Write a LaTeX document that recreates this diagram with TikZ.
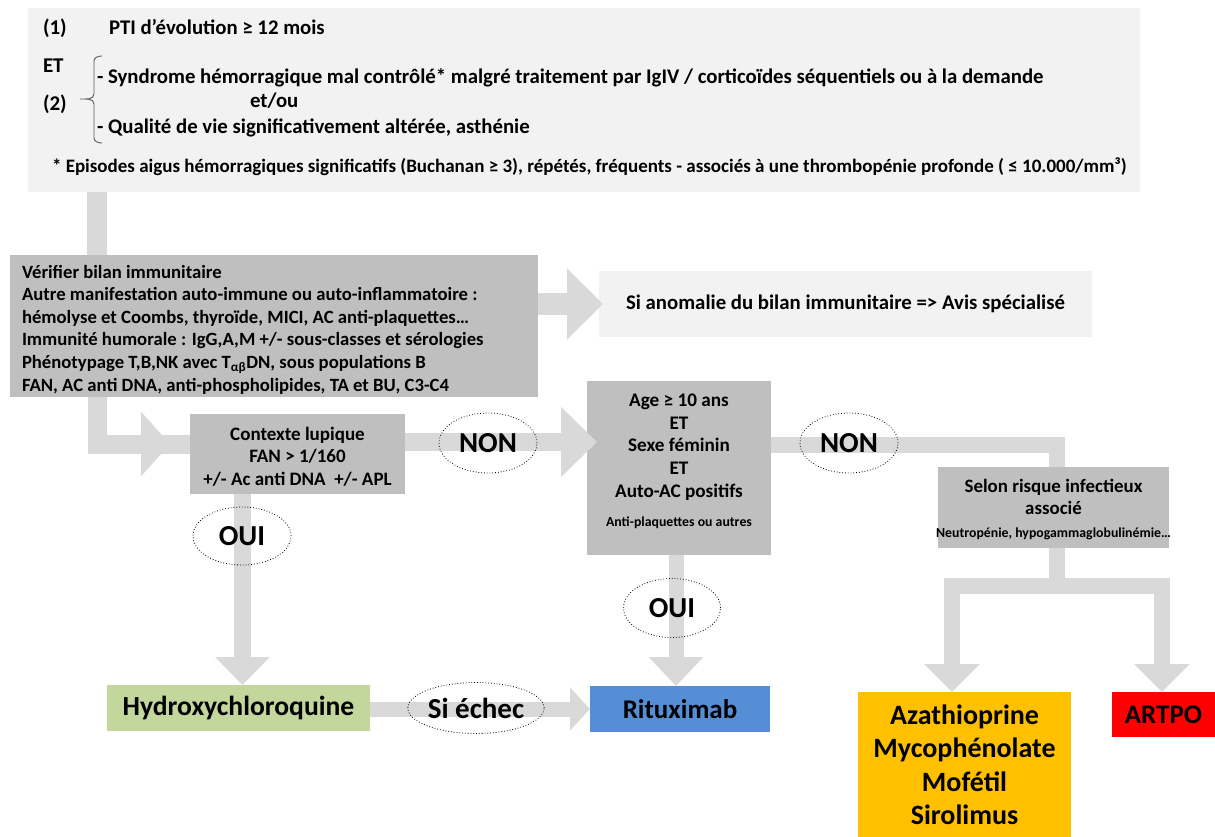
\documentclass[tikz,border=0pt]{standalone}
\usepackage{fontspec}
\setmainfont{Carlito}
\usetikzlibrary{arrows.meta,shapes.geometric,decorations.markings,calc}
\definecolor{lightbg}{HTML}{F2F2F2}
\definecolor{graybg}{HTML}{BFBFBF}
\definecolor{conncol}{HTML}{D9D9D9}
\definecolor{hcqgreen}{HTML}{C3D69B}
\definecolor{ritblue}{HTML}{558ED5}
\definecolor{azaorange}{HTML}{FFC000}
\definecolor{artpored}{HTML}{FF0000}
\definecolor{bracecol}{HTML}{595959}
\tikzset{
  boxbase/.style={inner sep=0pt, outer sep=0pt, anchor=north west, font=\bfseries, align=center},
  lightbox/.style={boxbase, fill=lightbg},
  graybox/.style={boxbase, fill=graybg},
  plaintxt/.style={inner sep=0pt, outer sep=0pt},
  toptxt/.style={plaintxt, anchor=base west, font=\fontsize{20.8}{24}\selectfont\bfseries},
  numtxt/.style={plaintxt, anchor=base west, font=\fontsize{21}{24}\selectfont\bfseries},
  notetxt/.style={plaintxt, anchor=base west, font=\fontsize{19}{22}\selectfont\bfseries},
  yesno/.style={ellipse, draw=black, dotted, line width=0.8pt, inner sep=0pt, font=\fontsize{29}{32}\selectfont\bfseries},
  conn/.style={draw=conncol, line width=#1, line join=miter},
}
\newcommand{\smalltxt}[1]{{\fontsize{13.8}{16}\selectfont #1}}
\begin{document}
\begin{tikzpicture}[x=1pt,y=-1pt]
\useasboundingbox (0,0) rectangle (1215,837);

% ---------- top box ----------
\node[lightbox, minimum width=1112pt, minimum height=184pt] (top) at (28,8) {};
\node[numtxt] (t1n) at (43,35) {(1)};
\node[toptxt] (t1) at (109,35) {PTI d’évolution ≥ 12 mois};
\node[numtxt] (tet) at (43,73) {ET};
\node[numtxt] (t2n) at (43,111) {(2)};
\node[toptxt] (t2a) at (97,84) {- Syndrome hémorragique mal contrôlé* malgré traitement par IgIV / corticoïdes séquentiels ou à la demande};
\node[toptxt] (t2o) at (250,108) {et/ou};
\node[toptxt] (t2b) at (97,134) {- Qualité de vie significativement altérée, asthénie};
\node[notetxt] (tfn) at (52,172.5) {* Episodes aigus hémorragiques significatifs (Buchanan ≥ 3), répétés, fréquents - associés à une thrombopénie profonde ( ≤ 10.000/mm³)};
\draw[draw=bracecol, line width=0.9pt]
  (102,56) to[out=180,in=90] (94,61) -- (94,94) to[out=-90,in=0] (80,99)
  to[out=0,in=90] (94,104) -- (94,138) to[out=-90,in=180] (102,143);

% ---------- boxes ----------
\node[graybox, minimum width=528pt, minimum height=142pt] (bil) at (10,255) {};
\node[plaintxt, anchor=west, align=left, font=\fontsize{18.7}{22.6}\selectfont\bfseries] (biltxt) at ($(bil.west)+(12,3.5)$)
  {Vérifier bilan immunitaire\\
   Autre manifestation auto-immune ou auto-inflammatoire :\\
   hémolyse et Coombs, thyroïde, MICI, AC anti-plaquettes…\\
   Immunité humorale : IgG,A,M +/- sous-classes et sérologies\\
   Phénotypage T,B,NK avec T\textsubscript{αβ}DN, sous populations B\\
   FAN, AC anti DNA, anti-phospholipides, TA et BU, C3-C4};
\node[lightbox, font=\fontsize{20.8}{24}\selectfont\bfseries, minimum width=493pt, minimum height=66pt] (anom) at (599,271)
  {Si anomalie du bilan immunitaire => Avis spécialisé};
\node[graybox, minimum width=215pt, minimum height=80pt] (ctx) at (190,414) {};
\node[plaintxt, align=center, font=\fontsize{19}{22.5}\selectfont\bfseries] (ctxtxt) at ($(ctx.center)+(0,2.5)$)
  {Contexte lupique\\FAN > 1/160\\+/- Ac anti DNA~~+/- APL};
\node[graybox, minimum width=184pt, minimum height=174pt] (age) at (587,381) {};
\node[plaintxt, align=center, font=\fontsize{19.2}{22.8}\selectfont\bfseries] (agetxt) at ($(age.center)+(0,-7)$)
  {Age ≥ 10 ans\\ET\\Sexe féminin\\ET\\Auto-AC positifs\\[6pt]\smalltxt{Anti-plaquettes ou autres}};
\node[graybox, minimum width=231pt, minimum height=81pt] (sel) at (938,467) {};
\node[plaintxt, align=center, font=\fontsize{18.9}{22}\selectfont\bfseries] (seltxt) at ($(sel.center)+(0,2.5)$)
  {Selon risque infectieux\\associé\\[1pt]\smalltxt{Neutropénie, hypogammaglobulinémie…}};
\node[boxbase, font=\fontsize{27.6}{32}\selectfont\bfseries, fill=hcqgreen, minimum width=263pt, minimum height=46pt] (hcq) at (107,685) {Hydroxychloroquine};
\node[boxbase, font=\fontsize{27}{32}\selectfont\bfseries, fill=ritblue, minimum width=180pt, minimum height=46pt] (rit) at (590,686) {Rituximab};
\node[boxbase, fill=azaorange, minimum width=213pt, minimum height=145pt] (aza) at (858,692) {};
\node[plaintxt, align=center, font=\fontsize{28}{33.5}\selectfont\bfseries] (azatxt) at ($(aza.north)+(0,73)$)
  {Azathioprine\\Mycophénolate\\Mofétil\\Sirolimus};
\node[boxbase, font=\fontsize{27}{30}\selectfont\bfseries, fill=artpored, minimum width=103pt, minimum height=45pt] (art) at (1112,692) {ARTPO};

% ---------- connectors ----------
\coordinate (cx1) at (97,0);
\coordinate (cy3) at (0,444);
\coordinate (cy4) at (0,442);
\coordinate (cx6) at (242.5,0);
\coordinate (cy7) at (0,709);
\coordinate (cx8) at (676,0);
\coordinate (cy5) at (0,445);
\coordinate (cx5) at (1057,0);
\coordinate (jn) at (1057,586);
\coordinate (jl) at (952,586);
\coordinate (jr) at (1162,586);

\draw[conn=20pt] (top.south -| cx1) -- (bil.north -| cx1);
\draw[conn=22pt, -{Triangle[length=36pt,width=69pt]}, shorten >=-4pt] (bil.east |- anom.west) -- (anom.west);
\draw[conn=19pt, postaction={decorate},
  decoration={markings, mark=at position -20pt with {\arrow[conncol]{Triangle[length=29pt,width=63pt]}}}]
  (bil.south -| cx1) |- (ctx.west |- cy3);
\draw[conn=18pt, -{Triangle[length=36pt,width=68pt]}, shorten >=-10pt] (ctx.east |- cy4) -- (age.west |- cy4);
\draw[conn=16pt] (age.east |- cy5) -| (sel.north -| cx5);
\draw[conn=17pt, -{Triangle[length=28pt,width=53pt]}] (ctx.south -| cx6) -- (hcq.north -| cx6);
\draw[conn=15pt, -{Triangle[length=20pt,width=42pt]}] (hcq.east |- cy7) -- (rit.west |- cy7);
\draw[conn=15pt, -{Triangle[length=29pt,width=53pt]}] (age.south -| cx8) -- (rit.north -| cx8);
\draw[conn=16pt, -{Triangle[length=28pt,width=54pt]}] (sel.south -| jn) |- (jl) -- (aza.north -| jl);
\draw[conn=16pt, -{Triangle[length=28pt,width=54pt]}] (sel.south -| jn) |- (jr) -- (art.north -| jr);

% ---------- yes/no labels ----------
\node[yesno, minimum width=98pt, minimum height=60pt] (non1) at (488,443) {NON};
\node[yesno, minimum width=98pt, minimum height=60pt] (non2) at (849,443) {NON};
\node[yesno, minimum width=98pt, minimum height=58pt] (oui1) at (242,536) {OUI};
\node[yesno, minimum width=97pt, minimum height=59pt] (oui2) at (672,608) {OUI};
\node[yesno, minimum width=135pt, minimum height=51pt] (echec) at (476,708) {Si échec};
\end{tikzpicture}
\end{document}
